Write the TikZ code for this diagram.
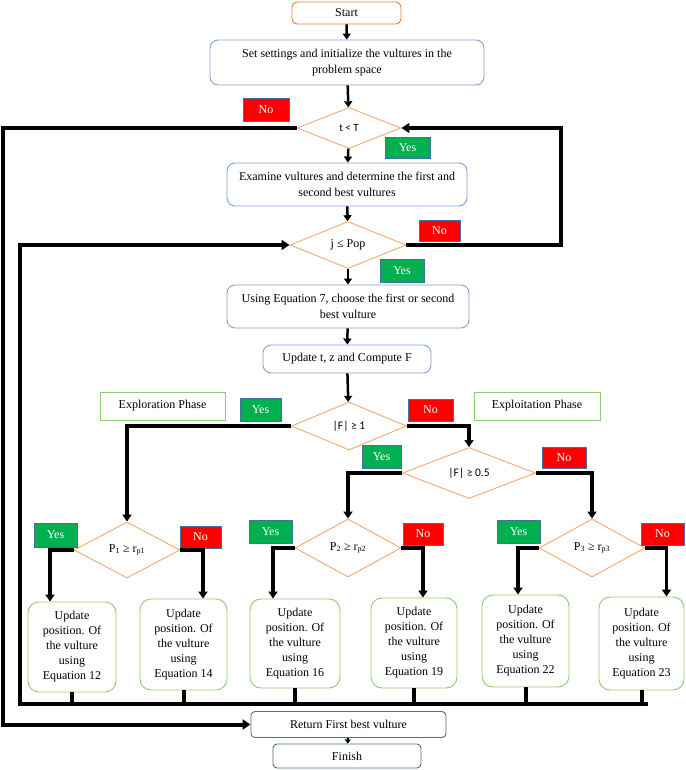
\documentclass[tikz,border=0pt]{standalone}
\usepackage{fontspec}
\setmainfont{Liberation Serif}
\newfontfamily\carl{Carlito}
\usetikzlibrary{shapes.geometric,arrows.meta,calc}
\definecolor{startC}{HTML}{ED7D31}
\definecolor{decC}{HTML}{F4A870}
\definecolor{blueC}{HTML}{7F9FDA}
\definecolor{greenC}{HTML}{90CC6E}
\definecolor{slateC}{HTML}{5A6A80}
\definecolor{yesC}{HTML}{00B050}
\definecolor{noC}{HTML}{FF0000}
\definecolor{lblB}{HTML}{41719C}
\tikzset{
  txt/.style={font=\fontsize{12}{15.5}\selectfont, align=center, inner sep=0pt},
  startbox/.style={txt, draw=startC, line width=0.9pt, rounded corners=5pt},
  proc/.style={txt, draw=blueC, line width=0.9pt, rounded corners=8pt},
  upbox/.style={txt, draw=greenC, line width=0.9pt, rounded corners=11pt, font=\fontsize{12}{15}\selectfont},
  phase/.style={txt, draw=greenC, line width=0.6pt},
  endbox/.style={txt, draw=slateC, line width=0.9pt, rounded corners=4pt},
  dec/.style={diamond, draw=decC, line width=0.9pt, inner sep=0pt, shape aspect=2.2, align=center},
  yeslbl/.style={draw=lblB, fill=yesC, text=white, line width=0.6pt, inner sep=0pt, font=\fontsize{12}{14}\selectfont},
  nolbl/.style={draw=lblB, fill=noC, text=white, line width=0.6pt, inner sep=0pt, font=\fontsize{12}{14}\selectfont},
  flow/.style={line width=2.5pt, -{Triangle[length=6pt,width=8pt]}},
  branch/.style={line width=3.5pt, -{Triangle[length=7pt,width=9pt]}},
  looparrow/.style={line width=4pt, -{Triangle[length=8pt,width=10pt]}},
  busline/.style={line width=4pt},
}
\begin{document}
\begin{tikzpicture}[x=1pt,y=-1pt]
\useasboundingbox[fill=white] (0,0) rectangle (685,770);

% process boxes
\node[startbox, minimum width=109pt, minimum height=22pt] (start) at (346.5,13) {Start};
\node[proc, minimum width=274pt, minimum height=45pt] (init) at (347,62.5) {Set settings and initialize the vultures in the\\problem space};
\node[proc, minimum width=240pt, minimum height=43pt] (exam) at (347,184.5) {Examine vultures and determine the first and\\second best vultures};
\node[proc, minimum width=242pt, minimum height=43pt] (choose) at (348,306.5) {Using Equation 7, choose the first or second\\best vulture};
\node[proc, minimum width=168pt, minimum height=28pt] (upd) at (347,359) {Update t, z and Compute F};
\node[phase, minimum width=125pt, minimum height=28pt] (explore) at (162.5,406) {Exploration Phase};
\node[phase, minimum width=126pt, minimum height=28pt] (exploit) at (537,406) {Exploitation Phase};

% decisions
\node[dec, minimum width=104pt, minimum height=41pt, font=\carl\fontsize{11}{12}\selectfont] (d1) at (349,128) {t < T};
\node[dec, minimum width=116pt, minimum height=47pt, font=\fontsize{12}{14}\selectfont] (d2) at (348,245) {j ≤ Pop};
\node[dec, minimum width=115pt, minimum height=48pt, font=\carl\fontsize{11.5}{12}\selectfont] (d3) at (349,426) {|F| ≥ 1};
\node[dec, minimum width=133pt, minimum height=51pt, font=\carl\fontsize{11.5}{12}\selectfont] (d4) at (469,473) {|F| ≥ 0.5};
\node[dec, minimum width=106pt, minimum height=56pt, font=\fontsize{12}{14}\selectfont] (d5) at (127,550) {P\textsubscript{1} ≥ r\textsubscript{p1}};
\node[dec, minimum width=106pt, minimum height=58pt, font=\fontsize{12}{14}\selectfont] (d6) at (348,548) {P\textsubscript{2} ≥ r\textsubscript{p2}};
\node[dec, minimum width=106pt, minimum height=58pt, font=\fontsize{12}{14}\selectfont] (d7) at (592,548) {P\textsubscript{3} ≥ r\textsubscript{p3}};

% update boxes
\node[upbox, minimum width=88pt, minimum height=90pt] (b1) at (72,647) {Update\\position. Of\\the vulture\\using\\Equation 12};
\node[upbox, minimum width=87pt, minimum height=91pt] (b2) at (183.5,644.5) {Update\\position. Of\\the vulture\\using\\Equation 14};
\node[upbox, minimum width=90pt, minimum height=89pt] (b3) at (295,643.5) {Update\\position. Of\\the vulture\\using\\Equation 16};
\node[upbox, minimum width=86pt, minimum height=90pt] (b4) at (414,643) {Update\\position. Of\\the vulture\\using\\Equation 19};
\node[upbox, minimum width=87pt, minimum height=92pt] (b5) at (525.5,641) {Update\\position. Of\\the vulture\\using\\Equation 22};
\node[upbox, minimum width=85pt, minimum height=93pt] (b6) at (641.5,643.5) {Update\\position. Of\\the vulture\\using\\Equation 23};

\node[endbox, minimum width=195pt, minimum height=26pt] (ret) at (348.5,724.5) {Return First best vulture};
\node[endbox, minimum width=148pt, minimum height=24pt] (fin) at (347,756) {Finish};

% yes / no labels
\node[nolbl, minimum width=46pt, minimum height=23pt] (n1) at (266,109.5) {No};
\node[yeslbl, minimum width=45pt, minimum height=21pt] (y1) at (407.5,147.5) {Yes};
\node[nolbl, minimum width=41pt, minimum height=21pt] (n2) at (439.5,230.5) {No};
\node[yeslbl, minimum width=44pt, minimum height=23pt] (y2) at (402,270.5) {Yes};
\node[yeslbl, minimum width=41pt, minimum height=23pt] (y3) at (260.5,409.5) {Yes};
\node[nolbl, minimum width=45pt, minimum height=22pt] (n3) at (430.5,410) {No};
\node[yeslbl, minimum width=39pt, minimum height=23pt] (y4) at (381.5,456.5) {Yes};
\node[nolbl, minimum width=44pt, minimum height=21pt] (n4) at (564,457.5) {No};
\node[yeslbl, minimum width=43pt, minimum height=24pt] (y5) at (55.5,535) {Yes};
\node[nolbl, minimum width=41pt, minimum height=22pt] (n5) at (200.5,537) {No};
\node[yeslbl, minimum width=43pt, minimum height=23pt] (y6) at (270.5,531.5) {Yes};
\node[nolbl, minimum width=40pt, minimum height=22pt] (n6) at (423,534) {No};
\node[yeslbl, minimum width=43pt, minimum height=23pt] (y7) at (518.5,531.5) {Yes};
\node[nolbl, minimum width=43pt, minimum height=22pt] (n7) at (662.5,534) {No};

% main chain
\draw[flow] (start) -- (init);
\draw[flow] (init) -- (d1);
\draw[flow] (d1) -- (exam);
\draw[flow] (exam) -- (d2);
\draw[flow] (d2) -- (choose);
\draw[flow] (choose) -- (upd);
\draw[flow] (upd) -- (d3);
\draw[flow, line width=2pt, -{Triangle[length=4pt,width=6pt]}] (ret) -- (fin);

% loops
\coordinate (lx) at (3,0);
\coordinate (rx) at (561,0);
\coordinate (busL) at (20,704);
\coordinate (busR) at (648,704);
\draw[looparrow] (d1.west) -| (lx |- ret.west) -- (ret.west);
\draw[looparrow] (d2.east) -| (rx |- d1.east) -- (d1.east);
\draw[looparrow] (busR) -- (busL) |- (d2.west);

% branches
\draw[branch] (d3.west) -| (d5.north);
\draw[branch] (d3.east) -| (d4.north);
\draw[branch] (d4.west) -| (d6.north);
\draw[branch] (d4.east) -| (d7.north);
\draw[branch] (d5.west) -| ($(b1.north)+(-22,0)$);
\draw[branch] (d5.east) -| ($(b2.north)+(19.5,0)$);
\draw[branch] (d6.west) -| ($(b3.north)+(-22,0)$);
\draw[branch] (d6.east) -| ($(b4.north)+(9,0)$);
\draw[branch] (d7.west) -| ($(b5.north)+(-7.5,0)$);
\draw[branch] (d7.east) -| ($(b6.north)+(25,0)$);

% bus connectors
\foreach \b in {b1,b2,b3,b4,b5,b6}
  \draw[busline] (\b.south) -- (\b.south |- busL);
\end{tikzpicture}
\end{document}
